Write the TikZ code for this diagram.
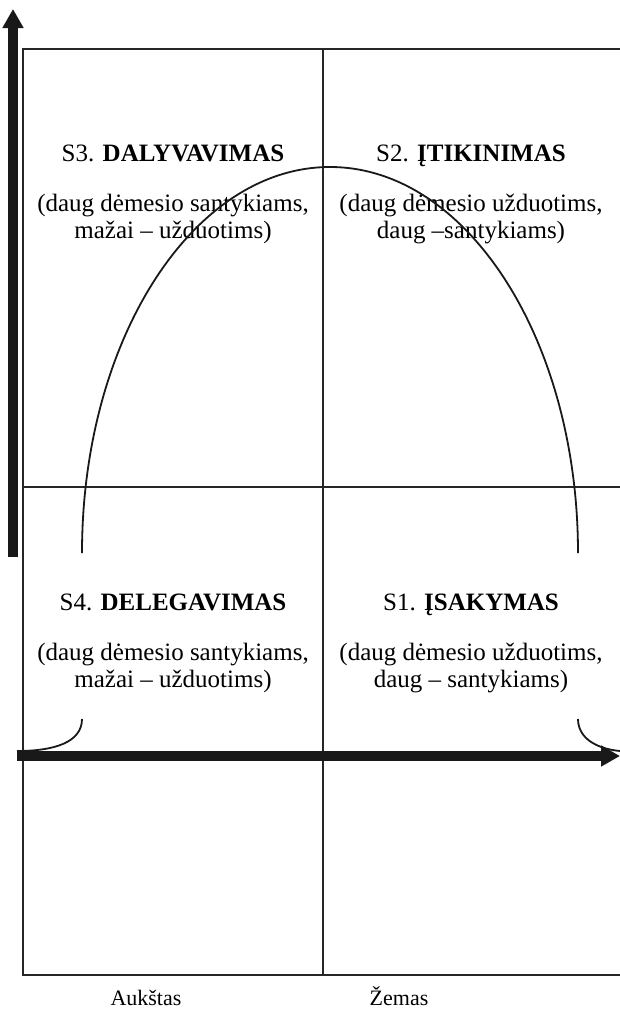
\documentclass[tikz,border=0pt]{standalone}
\usepackage{fontspec}
\setmainfont{Liberation Serif}
\usetikzlibrary{arrows.meta, positioning}

\begin{document}
\begin{tikzpicture}[x=1pt, y=-1pt,
    frame/.style={line width=1.4pt, black!85},
    axis/.style={line width=10pt, -{Triangle[length=19pt, width=20pt]}, black!90},
    curve/.style={line width=1.8pt, black!90},
    head/.style={anchor=base, inner sep=0pt, font=\fontsize{25}{27}\selectfont},
    desc/.style={head, align=center},
    lbl/.style={anchor=base, inner sep=0pt, font=\fontsize{22}{24}\selectfont},
  ]
    \useasboundingbox (0,0) rectangle (620,1015);

    % frame and quadrants
    \coordinate (TL) at (23,49);
    \coordinate (BR) at (620,975);
    \draw[frame] (BR |- TL) -- (TL) |- (BR);
    \draw[frame] (323,49) -- (323,975);
    \draw[frame] (23,487) -- (620,487);

    % axes
    \coordinate (yS) at (13,557);
    \coordinate (yE) at (13,9);
    \coordinate (xS) at (17,756);
    \coordinate (xE) at (620,756);
    \draw[axis] (yS) -- (yE);
    \draw[axis] (xS) -- (xE);

    % quadrant texts
    \foreach \n/\x/\y/\h/\d in {
      S3/173/161/{S3. \textbf{DALYVAVIMAS}}/{(daug dėmesio santykiams,\\ mažai – užduotims)},
      S2/471/161/{S2. \textbf{ĮTIKINIMAS}}/{(daug dėmesio užduotims,\\ daug –santykiams)},
      S4/173/610/{S4. \textbf{DELEGAVIMAS}}/{(daug dėmesio santykiams,\\ mažai – užduotims)},
      S1/471/610/{S1. \textbf{ĮSAKYMAS}}/{(daug dėmesio užduotims,\\ daug – santykiams)}} {
      \node[head] (h\n) at (\x,\y) {\h};
      \node[desc] (d\n) at (\x,\y+77) {\d};
    }

    % curve of styles
    \coordinate (archL) at (82,553);
    \coordinate (archR) at (578,553);
    \draw[curve] (archL) arc[start angle=180, end angle=360, x radius=248, y radius=386];
    \draw[curve] (archL |- 0,719) .. controls (82,742) and (55,751) .. (xS |- 23,751);
    \draw[curve] (archR |- 0,719) .. controls (578,739) and (598,749) .. (xE |- 0,751);

    % axis labels
    \node[lbl] (high) at (146,1005) {Aukštas};
    \node[lbl] (low) at (399,1005) {Žemas};
\end{tikzpicture}
\end{document}
